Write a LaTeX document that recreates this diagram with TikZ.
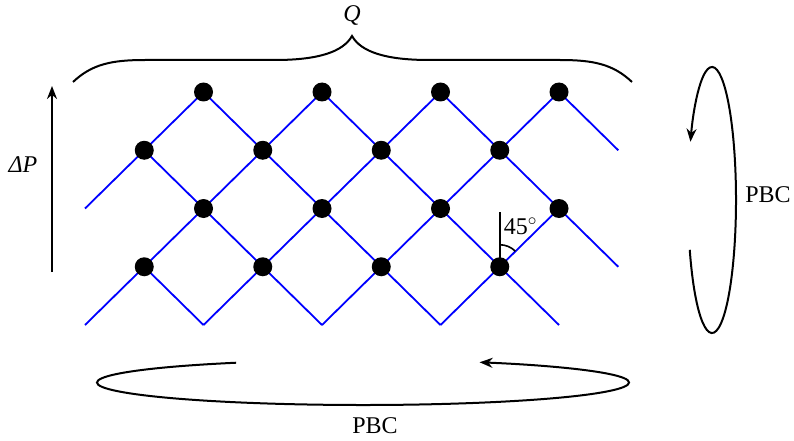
\documentclass[tikz,border=0pt]{standalone}
\usepackage{fontspec}
\setmainfont{Liberation Serif}
\usetikzlibrary{arrows.meta,calc}
\begin{document}
\begin{tikzpicture}[x=1pt,y=1pt,
  lat/.style={draw=blue,line width=1.8pt},
  dot/.style={circle,fill=black,inner sep=0pt,minimum size=19pt},
  blk/.style={line width=2pt,black},
  tip/.style={-{Stealth[length=13pt,width=10pt]}},
  lbl/.style={font=\fontsize{24}{28}\selectfont,inner sep=0pt}]
\useasboundingbox (0,0) rectangle (794,440);
% lattice coordinates
\foreach \i in {0,...,9}{
  \foreach \j in {0,...,4}{
    \coordinate (p\i\j) at ({85+59.25*\i},{348-58.25*\j});
  }
}
% up-right lines
\draw[lat] (p02) -- (p20);
\draw[lat] (p04) -- (p40);
\draw[lat] (p24) -- (p60);
\draw[lat] (p44) -- (p80);
\draw[lat] (p64) -- (p82);
% down-right lines
\draw[lat] (p13) -- (p24);
\draw[lat] (p11) -- (p44);
\draw[lat] (p20) -- (p64);
\draw[lat] (p40) -- (p84);
\draw[lat] (p60) -- (p93);
\draw[lat] (p80) -- (p91);
% angle mark
\coordinate (vt) at ($(p73)+(0,55)$);
\draw[blk,line width=1.6pt] (p73) -- (vt);
\draw[blk,line width=1.6pt] ($(p73)+(0,22)$) arc[start angle=90,end angle=45,radius=22pt];
\node[lbl,anchor=west] (ang) at ($(p73)+(4,40)$) {45$^{\circ}$};
% dots
\foreach \i/\j in {2/0,4/0,6/0,8/0,1/1,3/1,5/1,7/1,2/2,4/2,6/2,8/2,1/3,3/3,5/3,7/3}{
  \node[dot] (d\i\j) at (p\i\j) {};
}
% brace
\coordinate (bl) at (73,358);
\coordinate (br) at (632,358);
\coordinate (bt) at (352,404);
\draw[blk] (bl) .. controls (92,376) and (112,380) .. (145,380) -- (275,380)
  .. controls (318,380) and (343,388) .. (bt)
  .. controls (361,388) and (386,380) .. (429,380) -- (560,380)
  .. controls (593,380) and (613,376) .. (br);
\node[lbl] (Q) at (352,424) {\itshape Q};
% left arrow
\coordinate (ab) at (52,168);
\coordinate (at) at (52,354);
\draw[blk,tip] (ab) -- (at);
\node[lbl] (dP) at (23,275) {\itshape ΔP};
% right ellipse
\coordinate (ec) at (712,240);
\draw[blk,tip] ([shift={(202:24pt and 133pt)}]ec) arc[start angle=202,end angle=514,x radius=24pt,y radius=133pt];
\node[lbl] (pbcr) at (768,245) {PBC};
% bottom ellipse
\coordinate (fc) at (363,57.5);
\draw[blk,tip] ([shift={(118.5:266pt and 22.5pt)}]fc) arc[start angle=118.5,end angle=424,x radius=266pt,y radius=22.5pt];
\node[lbl] (pbcb) at (375,14) {PBC};
\end{tikzpicture}
\end{document}
